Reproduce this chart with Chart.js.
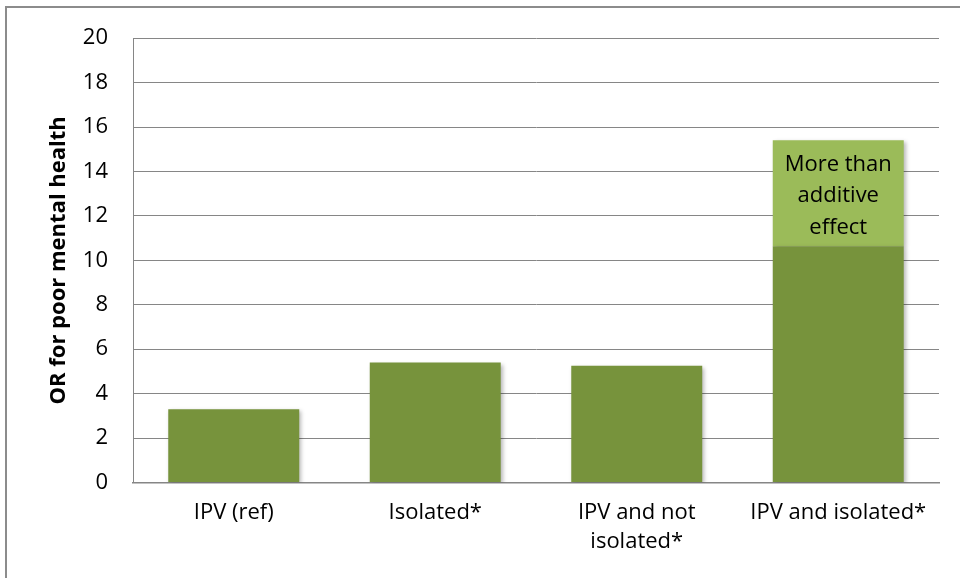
<!DOCTYPE html>
<html><head><meta charset="utf-8">
<script src="https://cdn.jsdelivr.net/npm/chart.js@4/dist/chart.umd.min.js"></script>
<style>
html,body{margin:0;padding:0;background:#fff;overflow:hidden}
#wrap{position:relative;width:960px;height:578px}
#frame{position:absolute;left:5px;top:6px;width:1000px;height:700px;border-top:2px solid #8c8c8c;border-left:2px solid #8c8c8c;box-sizing:border-box;pointer-events:none}
canvas{position:absolute;left:0;top:0}
</style></head>
<body><div id="wrap"><canvas id="c" width="960" height="578"></canvas><div id="frame"></div></div>
<script>
const categories = [['IPV (ref)'], ['Isolated*'], ['IPV and not', 'isolated*'], ['IPV and isolated*']];
const baseOR = [3.3, 5.4, 5.25, 10.64];
const extraOR = [0, 0, 0, 4.77];
const extraLabel = ['More than', 'additive', 'effect'];
const yTicks = [0, 2, 4, 6, 8, 10, 12, 14, 16, 18, 20];
const yTitle = 'OR for poor mental health';

const FONT = '"Open Sans", Calibri, sans-serif';

const shadowPlugin = {
  id: 'shadow',
  beforeDatasetsDraw(chart) {
    const ctx = chart.ctx;
    ctx.save();
    ctx.shadowColor = 'rgba(0,0,0,0.28)';
    ctx.shadowBlur = 4;
    ctx.shadowOffsetX = 2;
    ctx.shadowOffsetY = 2;
  },
  afterDatasetsDraw(chart) {
    chart.ctx.restore();
    const ctx = chart.ctx;
    const xs = chart.scales.x, ys = chart.scales.y;
    const idx = extraOR.findIndex(v => v > 0);
    if (idx < 0) return;
    const cx = xs.getPixelForValue(idx);
    const topPx = ys.getPixelForValue(baseOR[idx] + extraOR[idx]);
    const botPx = ys.getPixelForValue(baseOR[idx]);
    const mid = (topPx + botPx) / 2 + 3;
    const lh = 31.5;
    ctx.save();
    ctx.fillStyle = '#000';
    ctx.font = '22px ' + FONT;
    ctx.textAlign = 'center';
    ctx.textBaseline = 'middle';
    extraLabel.forEach((t, i) => {
      ctx.fillText(t, cx, mid + (i - (extraLabel.length - 1) / 2) * lh);
    });
    ctx.restore();
  }
};

new Chart(document.getElementById('c'), {
  type: 'bar',
  data: {
    labels: categories,
    datasets: [
      { data: baseOR, backgroundColor: '#77933C', borderWidth: 0, barPercentage: 0.65, categoryPercentage: 1.0 },
      { data: extraOR, backgroundColor: '#9BBB59', borderWidth: 0, barPercentage: 0.65, categoryPercentage: 1.0 }
    ]
  },
  options: {
    responsive: false,
    animation: false,
    devicePixelRatio: 1,
    layout: { padding: { left: 0, right: 21, top: 35, bottom: 0 } },
    plugins: { legend: { display: false }, tooltip: { enabled: false } },
    scales: {
      x: {
        stacked: true,
        grid: { display: false, drawTicks: false },
        border: { display: true, color: '#868686', width: 1.5 },
        ticks: { color: '#000', font: { family: FONT, size: 22, lineHeight: 1.32 }, padding: 16, maxRotation: 0, autoSkip: false },
        afterFit(s) { s.height = 95.5; }
      },
      y: {
        stacked: true,
        min: 0, max: 20,
        afterBuildTicks(s) { s.ticks = yTicks.map(v => ({ value: v })); },
        grid: { color: '#868686', lineWidth: 1, drawTicks: false },
        border: { display: true, color: '#868686', width: 1 },
        ticks: { color: '#000', font: { family: FONT, size: 22 }, padding: 25 },
        title: { display: true, text: yTitle, color: '#000', font: { family: FONT, size: 22, weight: 'bold' }, padding: { top: 46, bottom: 0 } },
        afterFit(s) { s.width = 133; }
      }
    }
  },
  plugins: [shadowPlugin]
});
</script>
</body></html>
